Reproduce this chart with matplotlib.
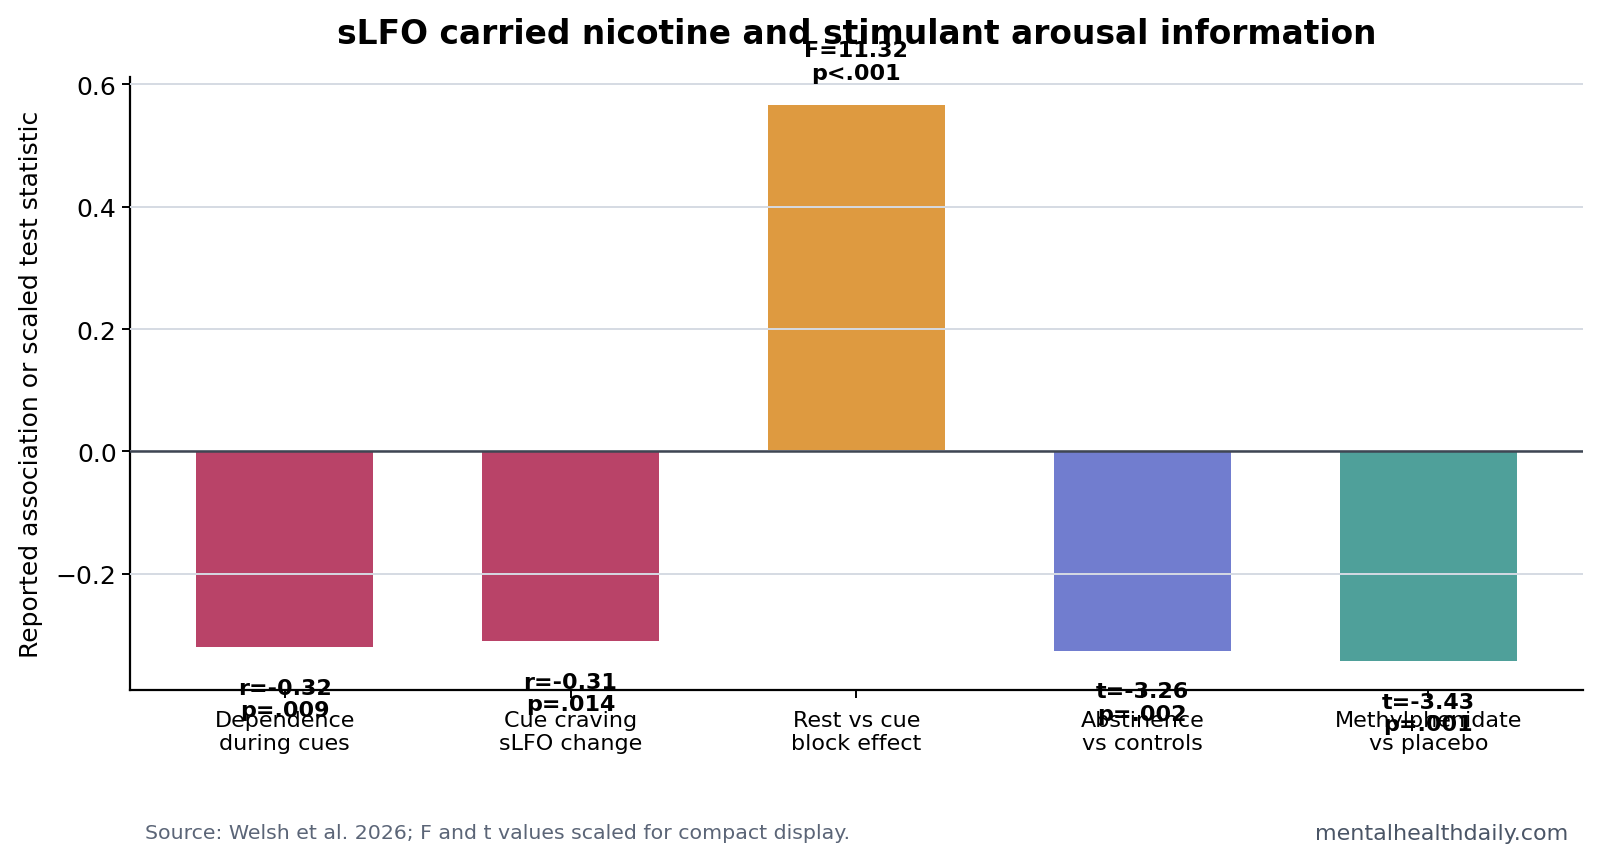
import matplotlib
matplotlib.use("Agg")
import matplotlib.pyplot as plt
import numpy as np

categories = ["Dependence\nduring cues", "Cue craving\nsLFO change", "Rest vs cue\nblock effect",
              "Abstinence\nvs controls", "Methylphenidate\nvs placebo"]
values = [-0.32, -0.31, 0.566, -0.326, -0.343]
labels = ["r=-0.32\np=.009", "r=-0.31\np=.014", "F=11.32\np<.001", "t=-3.26\np=.002", "t=-3.43\np=.001"]
colors = ["#b94368", "#b94368", "#de9a40", "#717dcf", "#4fa09a"]

fig = plt.figure(figsize=(16.02, 8.62), dpi=100)
ax = fig.add_axes([0.0811, 0.1984, 0.907, 0.7111])

x = np.arange(len(categories))
ax.bar(x, values, width=0.62, color=colors, zorder=1)
ax.set_axisbelow(False)
ax.yaxis.grid(True, color="#d5dae3", linewidth=1.4, zorder=2)
ax.xaxis.grid(False)
ax.axhline(0, color="#3f4653", linewidth=1.8, zorder=3)

for xi, v, lab in zip(x, values, labels):
    if v >= 0:
        ax.text(xi, v + 0.036, lab, ha="center", va="bottom", fontsize=16, fontweight="bold",
                linespacing=1.2, zorder=4)
    else:
        ax.text(xi, v - 0.05, lab, ha="center", va="top", fontsize=16, fontweight="bold",
                linespacing=1.15, zorder=4)

ax.set_ylim(-0.39, 0.612)
ax.set_yticks([-0.2, 0.0, 0.2, 0.4, 0.6])
ax.set_xticks(x)
ax.set_xticklabels(categories, fontsize=16, linespacing=1.2)
ax.tick_params(axis="y", labelsize=18, length=6, width=1.4)
ax.tick_params(axis="x", length=6, width=1.4, pad=8.5)
for s in ["top", "right"]:
    ax.spines[s].set_visible(False)
for s in ["left", "bottom"]:
    ax.spines[s].set_linewidth(1.6)
    ax.spines[s].set_color("black")
ax.set_ylabel("Reported association or scaled test statistic", fontsize=18, labelpad=9)

fig.text(0.535, 0.960, "sLFO carried nicotine and stimulant arousal information",
         ha="center", va="center", fontsize=23.7, fontweight="bold")
fig.text(0.0905, 0.033, "Source: Welsh et al. 2026; F and t values scaled for compact display.",
         ha="left", va="center", fontsize=14.75, color="#5b6577")
fig.text(0.979, 0.033, "mentalhealthdaily.com", ha="right", va="center", fontsize=16, color="#4a5566")

fig.savefig("out.png", dpi=100)
